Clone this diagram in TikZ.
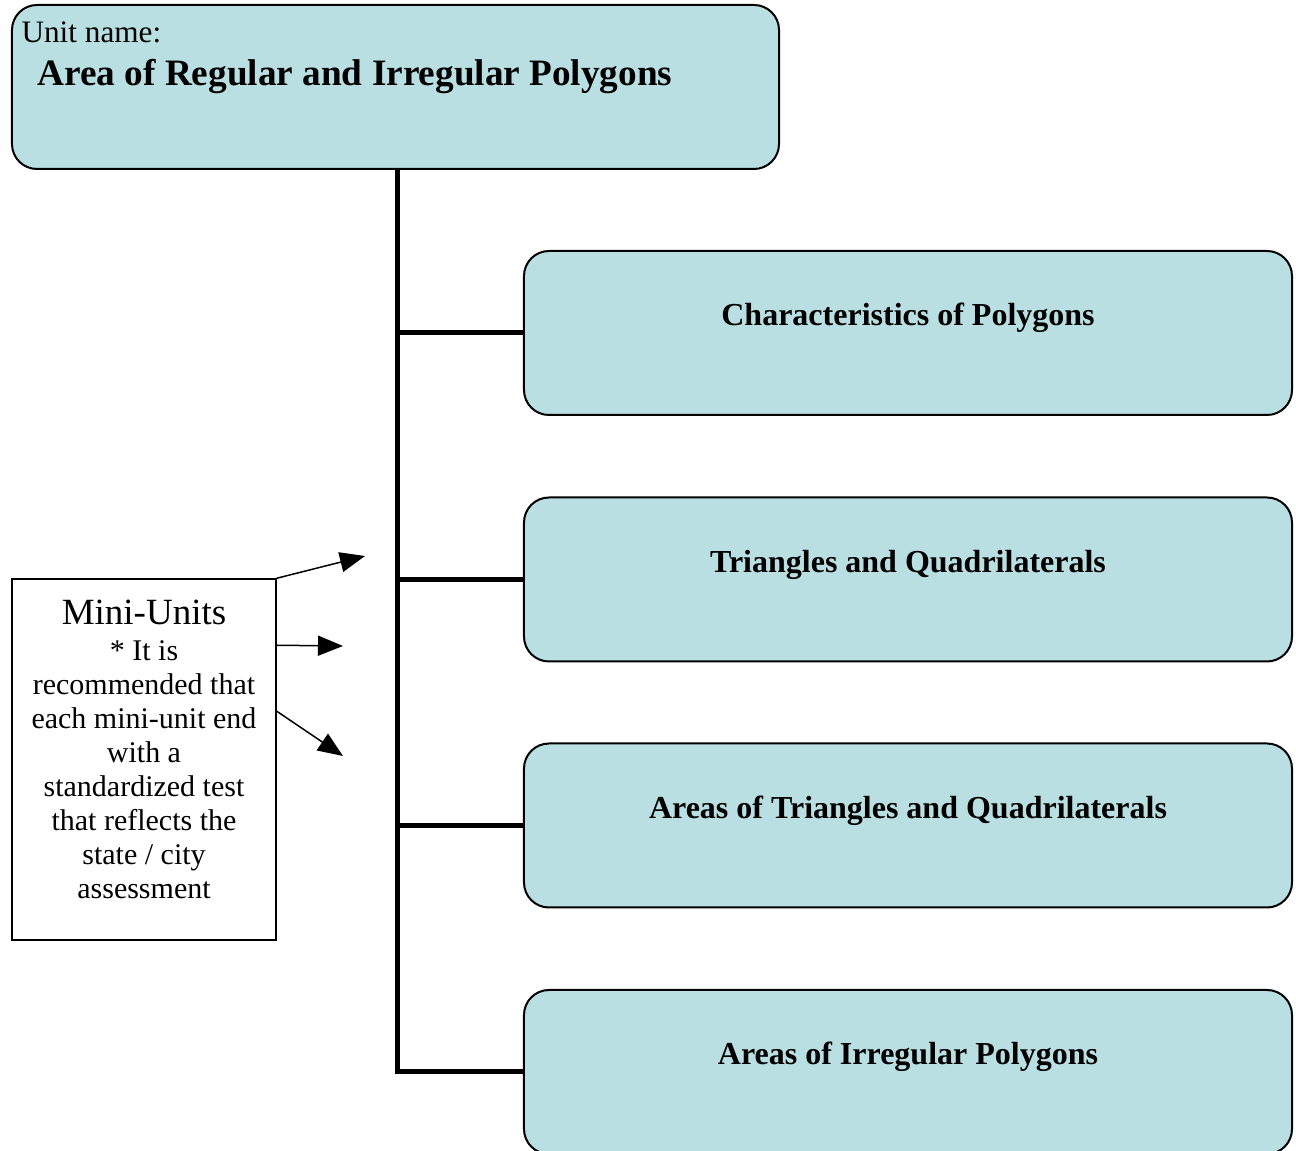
\documentclass[tikz,border=0pt]{standalone}
\usepackage{fontspec}
\setmainfont{Liberation Serif}
\usetikzlibrary{calc,arrows.meta}
\definecolor{boxfill}{RGB}{185,223,226}
\tikzset{
  unitbox/.style={draw,line width=0.8pt,fill=boxfill,rounded corners=10pt,minimum width=306.8pt,minimum height=65.6pt,inner sep=0pt},
  topicbox/.style={draw,line width=0.8pt,fill=boxfill,rounded corners=10pt,minimum width=307.2pt,minimum height=65.6pt,inner sep=0pt},
  topictext/.style={anchor=base,inner sep=0pt,font=\fontsize{12.8}{15}\selectfont\bfseries},
  minibox/.style={draw,line width=0.6pt,minimum width=105.6pt,minimum height=144.4pt,inner sep=0pt},
  minitext/.style={anchor=north,inner sep=0pt,align=center,font=\fontsize{12}{13.6}\selectfont},
  trunk/.style={line width=2pt},
  pointer/.style={line width=0.6pt,-{Triangle[length=10pt,width=8pt]}},
}

\begin{document}
\begin{tikzpicture}[x=0.4pt,y=-0.4pt] % 1 unit = 1 px of the reference
\useasboundingbox (0,0) rectangle (1296,1151);
\clip (0,0) rectangle (1296,1151);
            %
\node [unitbox] (head) at (395.5,87) {};
\node [anchor=base west,inner sep=0pt,font=\fontsize{12.5}{15}\selectfont] (headlbl) at (21,43) {Unit name:};
\node [anchor=base west,inner sep=0pt,font=\fontsize{14.9}{18}\selectfont\bfseries] (headtitle) at (37,86) {Area of Regular and Irregular Polygons};
            %
\node [topicbox] (t1) at (908,333) {};
                     \node [topictext] (t1lbl) at ($(t1.center)+(0,-7)$) {Characteristics of Polygons};
\node [topicbox] (t2) at (908,579.5) {};
                     \node [topictext] (t2lbl) at ($(t2.center)+(0,-7)$) {Triangles and Quadrilaterals};
\node [topicbox] (t3) at (908,825.5) {};
                     \node [topictext] (t3lbl) at ($(t3.center)+(0,-7)$) {Areas of Triangles and Quadrilaterals};
\node [topicbox] (t4) at (908,1072) {};
                     \node [topictext] (t4lbl) at ($(t4.center)+(0,-7)$) {Areas of Irregular Polygons}; % topic boxes, text a bit above centre
            %
\draw [trunk] ([xshift=0.6pt]head.south) |- (t4.west);
\draw [trunk] ([xshift=0.6pt]head.south |- t1.west) -- (t1.west);
\draw [trunk] ([xshift=0.6pt]head.south |- t2.west) -- (t2.west);
\draw [trunk] ([xshift=0.6pt]head.south |- t3.west) -- (t3.west);
            %
\node [minibox] (mini) at (144,759.5) {};
\node [minitext] (minilbl) at ($(mini.north)+(0,21)$) {{\fontsize{14.8}{17}\selectfont Mini-Units}\\[0.8pt]
  * It is\\ recommended that\\ each mini-unit end\\ with a\\ standardized test\\ that reflects the\\ state / city\\ assessment};
\coordinate (a1) at (365,556);
\coordinate (a2) at (343,646);
\coordinate (a3) at (343,756);
\draw [pointer] (mini.north east) -- (a1);
\draw [pointer] ($(mini.north east)+(0,67)$) -- (a2);
\draw [pointer] ($(mini.north east)+(0,133)$) -- (a3); % three arrows toward the trunk
            %
\end{tikzpicture}
\end{document}
